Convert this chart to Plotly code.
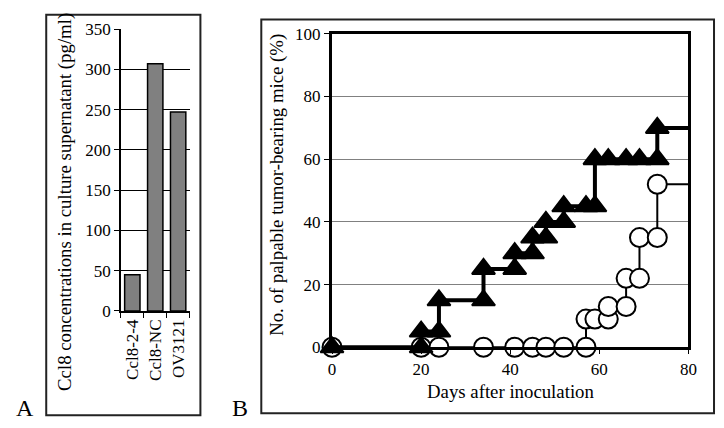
import plotly.graph_objects as go

# Panel A data
cats = ["Ccl8-2-4", "Ccl8-NC", "OV3121"]
conc = [45, 307, 247]

# Panel B data (step curves, points at each step)
tri_days = [0, 20, 20, 24, 24, 34, 34, 41, 41, 45, 45, 48, 48, 52, 52, 57, 59, 59, 62, 66, 69, 73, 73, 80]
tri_pct = [0, 0, 5, 5, 15, 15, 25, 25, 30, 30, 35, 35, 40, 40, 45, 45, 45, 60, 60, 60, 60, 60, 70, 70]
circ_days = [0, 20, 24, 34, 41, 45, 48, 52, 57, 57, 59, 62, 62, 66, 66, 69, 69, 73, 73, 80]
circ_pct = [0, 0, 0, 0, 0, 0, 0, 0, 0, 9, 9, 9, 13, 13, 22, 22, 35, 35, 52, 52]

W, H = 724, 428
def px(x):
    return x / W
def py(y):
    return 1 - y / H

FONT = "Liberation Serif, Times New Roman, serif"
TICK = 17
TITLE = 18.8

fig = go.Figure()

fig.add_trace(go.Bar(
    x=cats, y=conc, xaxis="x", yaxis="y",
    marker=dict(color="#808080", line=dict(color="black", width=1.5)),
    width=0.67, showlegend=False,
))

fig.add_trace(go.Scatter(
    x=circ_days, y=circ_pct, xaxis="x2", yaxis="y2", mode="lines+markers",
    line=dict(color="black", width=2),
    marker=dict(symbol="circle", size=[19] * (len(circ_days) - 1) + [0],
                opacity=1, color="white", line=dict(color="black", width=2)),
    cliponaxis=False, showlegend=False,
))

fig.add_trace(go.Scatter(
    x=tri_days, y=tri_pct, xaxis="x2", yaxis="y2", mode="lines+markers",
    line=dict(color="black", width=4),
    marker=dict(symbol="triangle-up", size=[20] * (len(tri_days) - 1) + [0],
                opacity=1, color="black", line=dict(color="black", width=2)),
    cliponaxis=False, showlegend=False,
))

fig.update_layout(
    width=W, height=H,
    margin=dict(l=0, r=0, t=0, b=0),
    paper_bgcolor="white", plot_bgcolor="white",
    font=dict(family=FONT, size=TICK, color="black"),
    xaxis=dict(
        domain=[px(119), px(189)], anchor="y",
        showline=True, linecolor="black", linewidth=1.5,
        ticks="outside", ticklen=5, tickcolor="black", tickson="boundaries",
        tickangle=-90, tickfont=dict(size=TICK), showgrid=False,
    ),
    yaxis=dict(
        domain=[py(316), py(21)], anchor="x",
        range=[0, 350], dtick=50,
        showline=True, linecolor="black", linewidth=1.5,
        ticks="outside", ticklen=5, tickcolor="black",
        showgrid=True, gridcolor="black", gridwidth=1.2,
        zeroline=False, tickfont=dict(size=TICK),
    ),
    xaxis2=dict(
        domain=[px(334), px(697)], anchor="y2",
        range=[0, 80], dtick=20,
        showline=True, mirror=True, linecolor="black", linewidth=3,
        ticks="outside", ticklen=4, tickcolor="black",
        showgrid=False, zeroline=False, tickfont=dict(size=TICK),
    ),
    yaxis2=dict(
        domain=[py(354), py(26)], anchor="x2",
        range=[0, 100], dtick=20,
        showline=True, mirror=True, linecolor="black", linewidth=3,
        ticks="outside", ticklen=5, tickcolor="black",
        showgrid=True, gridcolor="#808080", gridwidth=1,
        zeroline=False, tickfont=dict(size=TICK),
    ),
    shapes=[
        dict(type="rect", xref="paper", yref="paper",
             x0=px(43), x1=px(200), y0=py(425), y1=py(6),
             line=dict(color="#222", width=2), layer="below"),
        dict(type="rect", xref="paper", yref="paper",
             x0=px(262), x1=px(723), y0=py(423), y1=py(11),
             line=dict(color="#222", width=2), layer="below"),
    ],
    annotations=[
        dict(text="Ccl8 concentrations in culture supernatant (pg/ml)",
             xref="paper", yref="paper", x=px(62), y=py(202),
             textangle=-90, showarrow=False, font=dict(size=TITLE),
             xanchor="center", yanchor="middle"),
        dict(text="No. of palpable tumor-bearing mice (%)",
             xref="paper", yref="paper", x=px(278), y=py(184),
             textangle=-90, showarrow=False, font=dict(size=TITLE),
             xanchor="center", yanchor="middle"),
        dict(text="Days after inoculation",
             xref="paper", yref="paper", x=px(516), y=py(400),
             showarrow=False, font=dict(size=TITLE),
             xanchor="center", yanchor="middle"),
        dict(text="A", xref="paper", yref="paper", x=px(21), y=py(418),
             showarrow=False, font=dict(size=24), xanchor="center", yanchor="middle"),
        dict(text="B", xref="paper", yref="paper", x=px(240), y=py(418),
             showarrow=False, font=dict(size=24), xanchor="center", yanchor="middle"),
    ],
)

fig.write_html("out.html")
